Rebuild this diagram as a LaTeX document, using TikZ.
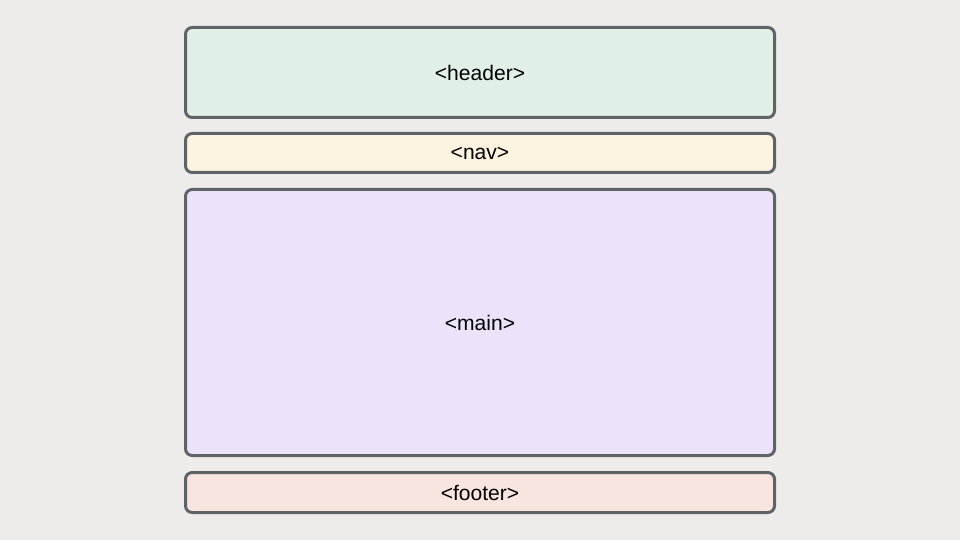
\documentclass[tikz,border=0pt]{standalone}
\usepackage{fontspec}
\setmainfont{Liberation Sans}
\usepackage{tikz}

\definecolor{pagebg}{HTML}{EEECEB}
\definecolor{boxline}{HTML}{5F6368}
\definecolor{headerfill}{HTML}{E0F0E6}
\definecolor{navfill}{HTML}{FDF3E1}
\definecolor{mainfill}{HTML}{ECE3FB}
\definecolor{footerfill}{HTML}{F9E5DF}

\begin{document}
\begin{tikzpicture}[x=0.75pt, y=0.75pt,
  block/.style={draw=boxline, line width=2.25pt, rounded corners=5pt,
    minimum width=589*0.75pt, inner sep=0pt, font=\fontsize{15.8pt}{18pt}\selectfont}]
\fill[pagebg] (0,0) rectangle (960,540);
\useasboundingbox (0,0) rectangle (960,540);

\node[block, fill=headerfill, minimum height=90*0.75pt] (header) at (480,467.5) {<header>};
\node[block, fill=navfill, minimum height=39*0.75pt] (nav) at (480,387) {<nav>};
\node[block, fill=mainfill, minimum height=266*0.75pt] (main) at (480,217.5) {<main>};
\node[block, fill=footerfill, minimum height=40*0.75pt] (footer) at (480,47.5) {<footer>};
\end{tikzpicture}
\end{document}
